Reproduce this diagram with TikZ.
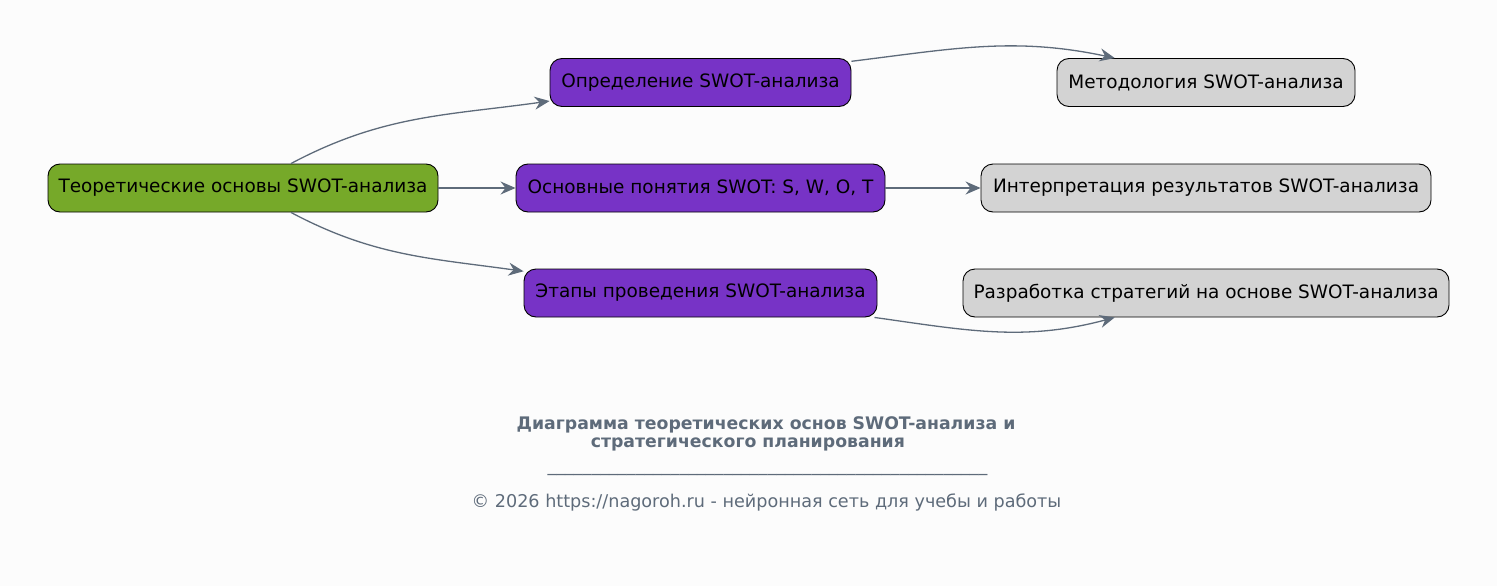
\documentclass[tikz,border=0pt]{standalone}
\usepackage{fontspec}
\setmainfont{DejaVu Sans}
\usetikzlibrary{arrows.meta}
\definecolor{bgc}{RGB}{252,252,252}
\definecolor{grn}{RGB}{118,169,41}
\definecolor{prp}{RGB}{119,51,198}
\definecolor{gry}{RGB}{211,211,211}
\definecolor{edg}{RGB}{94,107,122}
\tikzset{
  box/.style={draw=black, line width=0.9pt, rounded corners=12pt, minimum height=48pt, inner sep=0pt, font=\fontsize{18.45}{21}\selectfont, text=black},
  gbox/.style={box, fill=grn},
  pbox/.style={box, fill=prp},
  cbox/.style={box, fill=gry},
  conn/.style={draw=edg, line width=1.3pt, -{Stealth[length=15pt, width=13pt, inset=5pt]}},
}
\begin{document}
\begin{tikzpicture}[x=1pt,y=1pt]
\useasboundingbox[fill=bgc] (0,0) rectangle (1497,-586);
\node[gbox, minimum width=390pt] (A) at (243,-188) {Теоретические основы SWOT-анализа};
\node[pbox, minimum width=301pt] (B1) at (700.5,-82.5) {Определение SWOT-анализа};
\node[pbox, minimum width=369pt] (B2) at (700.5,-188) {Основные понятия SWOT: S, W, O, T};
\node[pbox, minimum width=353pt] (B3) at (700.5,-293) {Этапы проведения SWOT-анализа};
\node[cbox, minimum width=298pt] (C1) at (1206,-82.5) {Методология SWOT-анализа};
\node[cbox, minimum width=450pt] (C2) at (1206,-188) {Интерпретация результатов SWOT-анализа};
\node[cbox, minimum width=486pt] (C3) at (1206,-293) {Разработка стратегий на основе SWOT-анализа};
\draw[conn] (A.27) to[out=28, in=188] (B1.187);
\draw[conn] (A.east) -- (B2.west);
\draw[conn] (A.-27) to[out=-28, in=172] (B3.173);
\draw[conn] (B1.8) to[out=7, in=168] (C1.165);
\draw[conn] (B2.east) -- (C2.west);
\draw[conn] (B3.-8) to[out=-8, in=195] (C3.195);
\node[text=edg, font=\bfseries\fontsize{17.3}{18}\selectfont, align=center] (T) at (766,-434) {Диаграмма теоретических основ SWOT-анализа и\\стратегического планирования\hspace*{2.1em}};
\node[text=edg, font=\fontsize{17.6}{18}\selectfont] (L) at (767.5,-474) {\_\_\_\_\_\_\_\_\_\_\_\_\_\_\_\_\_\_\_\_\_\_\_\_\_\_\_\_\_\_\_\_\_\_\_\_\_\_\_\_\_\_\_\_\_\_\_\_\_\_};
\node[text=edg, font=\fontsize{17.6}{18}\selectfont] (F) at (766.5,-502) {© 2026 https://nagoroh.ru - нейронная сеть для учебы и работы};
\end{tikzpicture}
\end{document}
